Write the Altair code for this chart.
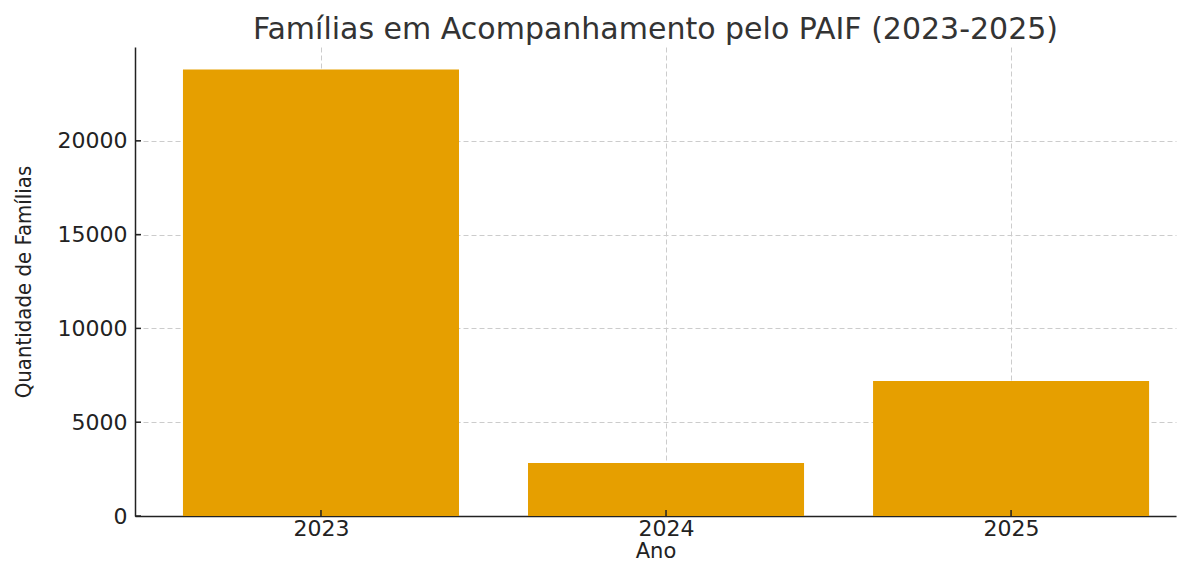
import altair as alt
import pandas as pd

years = [2023, 2024, 2025]
values = [23800, 2830, 7200]
y_ticks = [0, 5000, 10000, 15000, 20000]

bar_half = 0.4
df = pd.DataFrame({
    "ano": years,
    "valor": values,
    "x0": [y - bar_half for y in years],
    "x1": [y + bar_half for y in years],
})
ytick_df = pd.DataFrame({"v": y_ticks})
xtick_df = pd.DataFrame({"a": years})

W, H = 1041, 469
xscale = alt.Scale(domain=[2022.461, 2025.478], nice=False, zero=False)
yscale = alt.Scale(domain=[0, 25000], nice=False)

grid = dict(grid=True, gridDash=[5, 3], gridColor="#cccccc", gridWidth=1)

bars = alt.Chart(df).mark_bar(color="#E69F00", opacity=1).encode(
    x=alt.X("x0:Q", scale=xscale,
            axis=alt.Axis(values=years, format="d", title="Ano", tickSize=0,
                          labelPadding=2, labelFontSize=22, titleFontSize=21,
                          titlePadding=1, domainColor="#222", domainWidth=1.5,
                          **grid)),
    x2="x1:Q",
    y=alt.Y("valor:Q", scale=yscale,
            axis=alt.Axis(values=y_ticks, format="d", title="Quantidade de Famílias",
                          tickSize=0, labelPadding=8, labelFontSize=22,
                          titleFont="DejaVu Sans Condensed", titleFontSize=22,
                          titlePadding=22, domainColor="#222", domainWidth=1.5,
                          **grid)),
    y2=alt.datum(0),
)

yt = alt.Chart(ytick_df).mark_rule(color="#222", strokeWidth=1.5).encode(
    y=alt.Y("v:Q", scale=yscale), x=alt.value(0), x2=alt.value(6)
)
xt = alt.Chart(xtick_df).mark_rule(color="#222", strokeWidth=1.5).encode(
    x=alt.X("a:Q", scale=xscale), y=alt.value(H), y2=alt.value(H - 6)
)

chart = alt.layer(bars, yt, xt).properties(
    width=W, height=H,
    title=alt.TitleParams("Famílias em Acompanhamento pelo PAIF (2023-2025)",
                          fontSize=30, fontWeight="normal", color="#333333",
                          font="DejaVu Sans", offset=2),
    autosize=alt.AutoSizeParams(type="none"),
    padding={"left": 127, "top": 39, "right": 2, "bottom": 47},
).configure_axis(
    labelFont="DejaVu Sans", titleFont="DejaVu Sans", labelColor="#222",
    titleColor="#222", titleFontWeight="normal"
).configure_view(stroke=None)

chart.save("out.html", embed_options={"renderer": "svg", "actions": False})
